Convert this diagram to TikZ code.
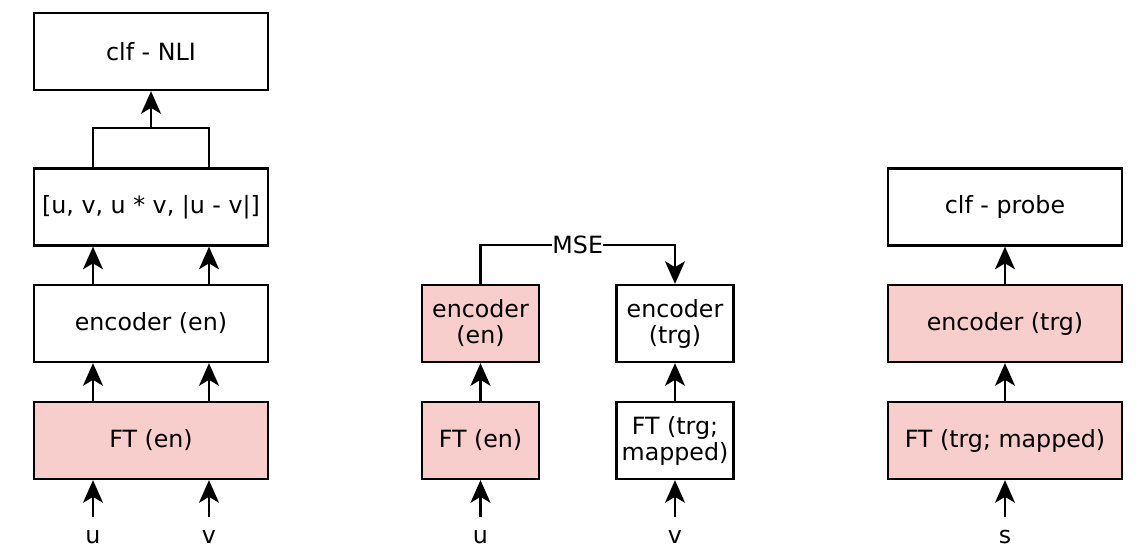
\documentclass[tikz,border=0pt]{standalone}
\usepackage{fontspec}
\setmainfont{DejaVu Sans}
\usetikzlibrary{arrows.meta}
\definecolor{pinkfill}{HTML}{F8CECC}
\begin{document}
\begin{tikzpicture}[x=0.75pt,y=-0.75pt,
  box/.style={draw=black,line width=1.7pt,fill=white,minimum height=77*0.75pt,inner sep=2pt,align=center,font=\fontsize{17.8}{19.5}\selectfont},
  wide/.style={box,minimum width=234*0.75pt},
  narrow/.style={box,minimum width=117*0.75pt},
  pinkbox/.style={fill=pinkfill},
  lbl/.style={font=\fontsize{17.8}{19.5}\selectfont,inner sep=0pt},
  arr/.style={line width=1.7pt,-{Stealth[length=17pt 0,width=15pt 0,inset=4.5pt 0]}},
  ln/.style={line width=1.7pt}]
\useasboundingbox[fill=white] (0,0) rectangle (1136,560);
% left column
\node[wide] (clf) at (151,51.5) {clf - NLI};
\node[wide] (cat) at (151,207) {[u, v, u * v, |u - v|]};
\node[wide] (enc1) at (151,323.5) {encoder (en)};
\node[wide,pinkbox] (ft1) at (151,440.5) {FT (en)};
\node[lbl] (u1) at (93,537) {u};
\node[lbl] (v1) at (209,537) {v};
\coordinate (u1s) at (93,517);
\coordinate (v1s) at (209,517);
\coordinate (jn) at (151,128);
\draw[arr] (u1s) -- (u1s |- ft1.south);
\draw[arr] (v1s) -- (v1s |- ft1.south);
\draw[arr] (u1s |- ft1.north) -- (u1s |- enc1.south);
\draw[arr] (v1s |- ft1.north) -- (v1s |- enc1.south);
\draw[arr] (u1s |- enc1.north) -- (u1s |- cat.south);
\draw[arr] (v1s |- enc1.north) -- (v1s |- cat.south);
\draw[ln] (u1s |- cat.north) |- (jn) -| (v1s |- cat.north);
\draw[arr] (jn) -- (clf.south);
% middle
\node[narrow,pinkbox] (encL) at (480.5,323.5) {encoder\\(en)};
\node[narrow,pinkbox] (ftL) at (480.5,440.5) {FT (en)};
\node[narrow] (encR) at (675,323.5) {encoder\\(trg)};
\node[narrow] (ftR) at (675,440.5) {FT (trg;\\mapped)};
\node[lbl] (u2) at (480.5,537) {u};
\node[lbl] (v2) at (675,537) {v};
\coordinate (u2s) at (480.5,517);
\coordinate (v2s) at (675,517);
\draw[arr] (u2s) -- (ftL.south);
\draw[arr] (v2s) -- (ftR.south);
\draw[arr] (ftL.north) -- (encL.south);
\draw[arr] (ftR.north) -- (encR.south);
\draw[arr] (encL.north) -- ++(0,-39) -| node[pos=0.25,fill=white,inner sep=1pt,lbl] {MSE} (encR.north);
% right column
\node[wide] (probe) at (1005,207) {clf - probe};
\node[wide,pinkbox] (enc3) at (1005,323.5) {encoder (trg)};
\node[wide,pinkbox] (ft3) at (1005,440.5) {FT (trg; mapped)};
\node[lbl] (s3) at (1005,537) {s};
\coordinate (s3s) at (1005,517);
\draw[arr] (s3s) -- (ft3.south);
\draw[arr] (ft3.north) -- (enc3.south);
\draw[arr] (enc3.north) -- (probe.south);
\end{tikzpicture}
\end{document}
